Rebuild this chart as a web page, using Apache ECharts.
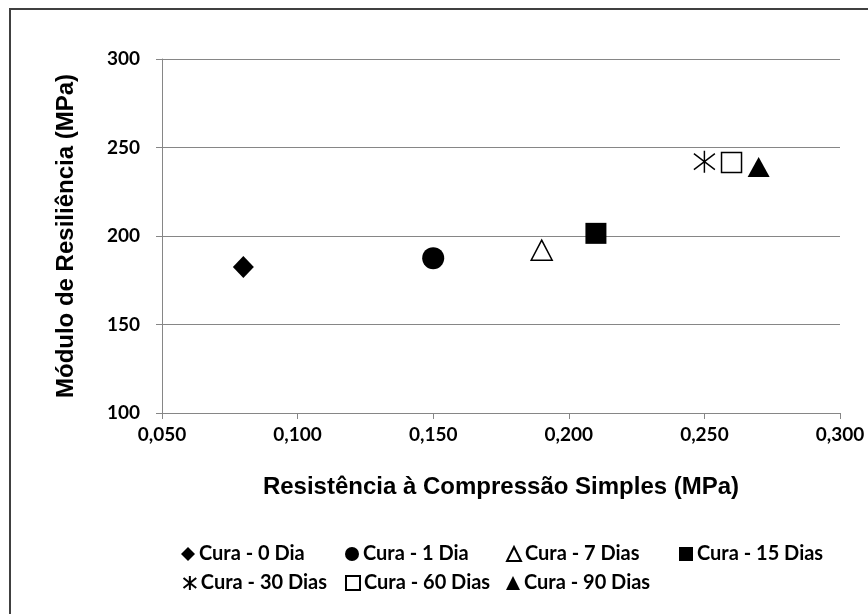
<!DOCTYPE html>
<html>
<head>
<meta charset="utf-8">
<script src="https://cdn.jsdelivr.net/npm/echarts@6/dist/echarts.min.js"></script>
<style>
html,body{margin:0;padding:0;background:#fff;}
#chart{width:868px;height:614px;}
</style>
</head>
<body>
<div id="chart"></div>
<script>
// ---- data ----
const seriesNames = ['Cura - 0 Dia','Cura - 1 Dia','Cura - 7 Dias','Cura - 15 Dias','Cura - 30 Dias','Cura - 60 Dias','Cura - 90 Dias'];
const rcsValues = [0.080, 0.150, 0.190, 0.210, 0.250, 0.260, 0.270];
const mrValues  = [182.5, 187.5, 192, 201.5, 242, 241.5, 239];
const xTicks = [0.05, 0.10, 0.15, 0.20, 0.25, 0.30];
const yTicks = [100, 150, 200, 250, 300];
const xTitle = 'Resistência à Compressão Simples (MPa)';
const yTitle = 'Módulo de Resiliência (MPa)';

const asteriskPath = 'path://M0,-11L0,11M-10,-8L10,8M-10,8L10,-8';
const markerStyles = [
  {symbol:'diamond', size:[21,22], fill:'#000', border:'#000', bw:0},
  {symbol:'circle', size:22, fill:'#000', border:'#000', bw:0},
  {symbol:'triangle', size:[21,20], fill:'#fff', border:'#000', bw:1.5},
  {symbol:'rect', size:21, fill:'#000', border:'#000', bw:0},
  {symbol:asteriskPath, size:[21,22], fill:'none', border:'#000', bw:1.5},
  {symbol:'rect', size:20, fill:'#fff', border:'#000', bw:1.5},
  {symbol:'triangle', size:[22,20], fill:'#000', border:'#000', bw:0}
];

const series = seriesNames.map((n,i)=>({
  name:n, type:'scatter',
  data:[[rcsValues[i], mrValues[i]]],
  symbol: markerStyles[i].symbol,
  symbolSize: markerStyles[i].size,
  itemStyle:{color:markerStyles[i].fill, borderColor:markerStyles[i].border, borderWidth:markerStyles[i].bw, opacity:1},
  emphasis:{disabled:true}
}));

const fmt = v => v.toFixed(3).replace('.', ',');
const labelFont = {fontFamily:'Lato', fontWeight:'bold', fontSize:19, color:'#000'};

// legend layout (grid of columns, like the original)
const legendCols = [176, 340, 501, 674];
const legendRows = [539, 568];
const legends = seriesNames.map((n,i)=>{
  const row = i < 4 ? 0 : 1;
  const col = i < 4 ? i : i - 4;
  return {
    left: legendCols[col], top: legendRows[row],
    itemWidth:14, itemHeight:14, itemGap:0,
    textStyle:{fontFamily:'Lato', fontWeight:'bold', fontSize:20, color:'#000', padding:[0,0,0,-1]},
    data:[{name:n}],
    selectedMode:false
  };
});

const chart = echarts.init(document.getElementById('chart'), null, {renderer:'canvas'});
chart.setOption({
  animation:false,
  backgroundColor:'#fff',
  grid:{left:162, right:28, top:59, bottom:201},
  xAxis:{
    type:'value', min:xTicks[0], max:xTicks[xTicks.length-1], interval:0.05,
    name:xTitle, nameLocation:'middle', nameGap:62,
    nameTextStyle:{fontFamily:'Liberation Sans', fontWeight:'bold', fontSize:24, color:'#000'},
    axisLine:{show:true, lineStyle:{color:'#868686', width:1}},
    axisTick:{show:true, length:6, lineStyle:{color:'#868686'}},
    axisLabel:Object.assign({formatter:fmt, margin:12}, labelFont),
    splitLine:{show:false}
  },
  yAxis:{
    type:'value', min:yTicks[0], max:yTicks[yTicks.length-1], interval:50,
    name:yTitle, nameLocation:'middle', nameGap:84,
    nameTextStyle:{fontFamily:'Liberation Sans', fontWeight:'bold', fontSize:24, color:'#000'},
    axisLine:{show:true, lineStyle:{color:'#868686', width:1}},
    axisTick:{show:true, length:6, lineStyle:{color:'#868686'}},
    axisLabel:Object.assign({margin:22}, labelFont),
    splitLine:{show:true, lineStyle:{color:'#868686', width:1}}
  },
  legend:legends,
  graphic:[{type:'rect', shape:{x:10, y:9, width:900, height:700}, style:{fill:'none', stroke:'#404040', lineWidth:2}, silent:true}],
  series:series
});
</script>
</body>
</html>
